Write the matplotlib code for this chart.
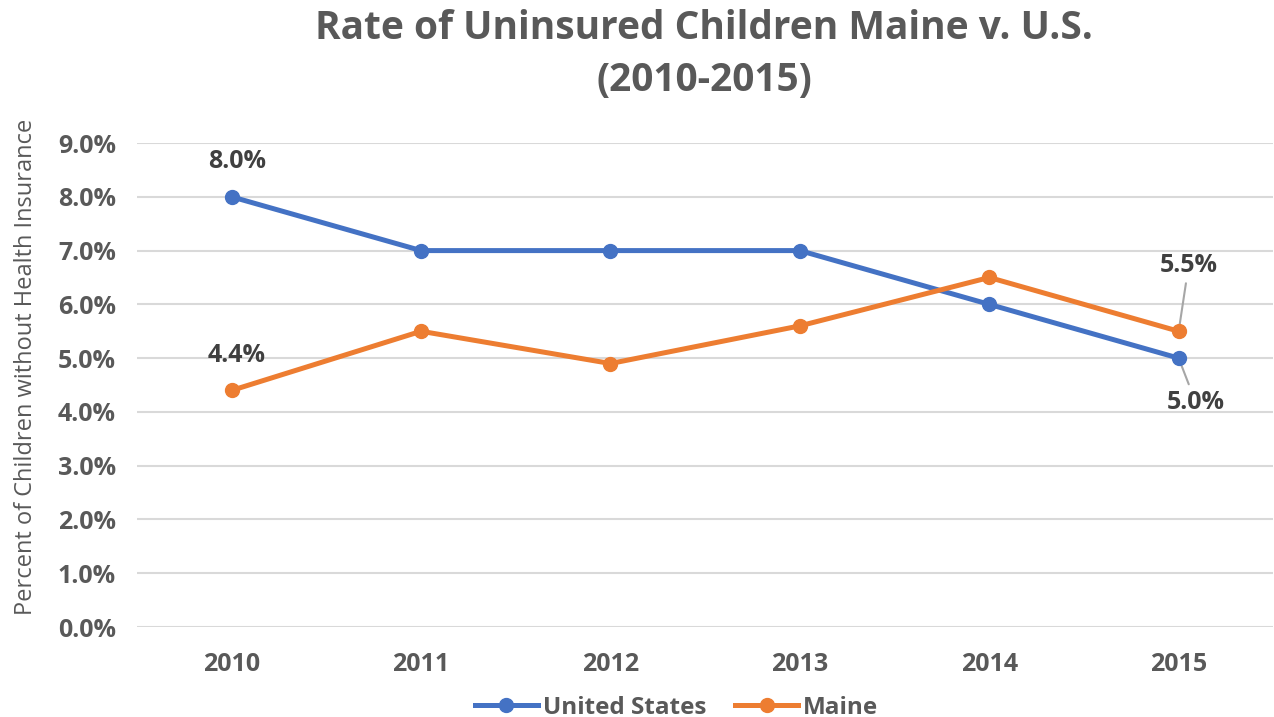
import matplotlib
matplotlib.use("Agg")
import matplotlib.pyplot as plt
from matplotlib.ticker import FuncFormatter

years = ["2010", "2011", "2012", "2013", "2014", "2015"]
us = [8.0, 7.0, 7.0, 7.0, 6.0, 5.0]
maine = [4.4, 5.5, 4.9, 5.6, 6.5, 5.5]
yticks = [0, 1, 2, 3, 4, 5, 6, 7, 8, 9]

plt.rcParams['font.family'] = ['Open Sans', 'DejaVu Sans']
grey = '#595959'
blue = '#4472C4'
orange = '#ED7D31'

fig = plt.figure(figsize=(12.74, 7.17), dpi=100)
ax = fig.add_axes([0.1075, 0.1255, 0.892, 0.675])
x = list(range(len(years)))

ax.plot(x, us, color=blue, lw=3.6, marker='o', ms=10, label='United States', zorder=3)
ax.plot(x, maine, color=orange, lw=3.6, marker='o', ms=10, label='Maine', zorder=3)

ax.set_xlim(-0.5, 5.5)
ax.set_ylim(0, 9)
ax.set_yticks(yticks)
ax.yaxis.set_major_formatter(FuncFormatter(lambda v, p: f"{v:.1f}%"))
ax.set_xticks(x)
ax.set_xticklabels(years)
ax.grid(axis='y', color='#D9D9D9', lw=1.5)
ax.set_axisbelow(True)
for s in ax.spines.values():
    s.set_visible(False)
ax.tick_params(axis='both', length=0, labelsize=18, labelcolor=grey)
for lab in ax.get_xticklabels() + ax.get_yticklabels():
    lab.set_fontweight('bold')
ax.tick_params(axis='x', pad=18)
ax.tick_params(axis='y', pad=15)

ax.set_ylabel("Percent of Children without Health Insurance", fontsize=17, color=grey)
ax.yaxis.set_label_coords(-0.087, 0.537)

lab_kw = dict(fontsize=18, fontweight='bold', color='#404040', ha='center', va='center')
ax.annotate(f"{us[0]:.1f}%", (x[0], us[0]), xytext=(5, 35), textcoords='offset pixels', **lab_kw)
ax.annotate(f"{maine[0]:.1f}%", (x[0], maine[0]), xytext=(5, 35), textcoords='offset pixels', **lab_kw)
ax.annotate(f"{maine[5]:.1f}%", (x[5], maine[5]), xytext=(10, 66), textcoords='offset pixels', zorder=2,
            arrowprops=dict(arrowstyle='-', color='#A6A6A6', lw=1.5, shrinkA=2, shrinkB=0), **lab_kw)
ax.annotate(f"{us[5]:.1f}%", (x[5], us[5]), xytext=(17, -44), textcoords='offset pixels', zorder=2,
            arrowprops=dict(arrowstyle='-', color='#A6A6A6', lw=1.5, shrinkA=2, shrinkB=0), **lab_kw)

fig.suptitle("Rate of Uninsured Children Maine v. U.S.\n(2010-2015)", x=0.5526, y=0.988,
             fontsize=28, fontweight='bold', color=grey, linespacing=1.45)

leg = fig.legend(loc='lower center', bbox_to_anchor=(0.531, -0.034), ncol=2, frameon=False,
                 fontsize=17.5, handlelength=2.6, columnspacing=1.2, handletextpad=0.2)
for t in leg.get_texts():
    t.set_fontweight('bold')
    t.set_color(grey)

fig.savefig("out.png", dpi=100)
